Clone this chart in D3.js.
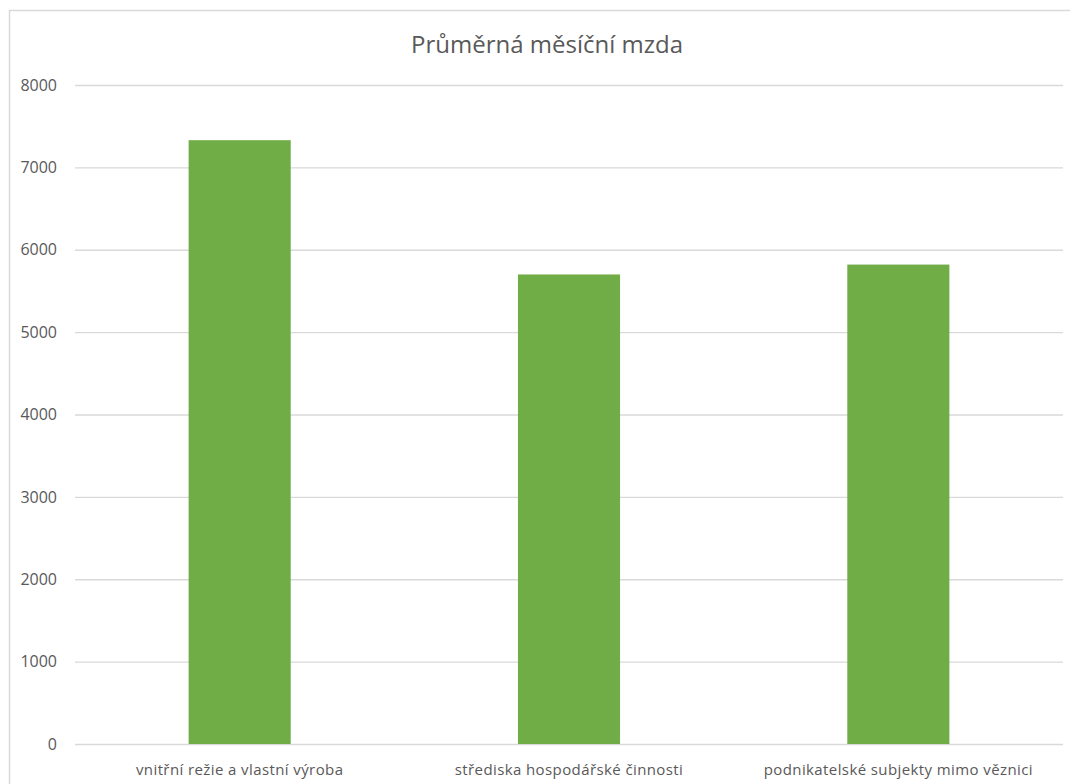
<!DOCTYPE html>
<html>
<head>
<meta charset="utf-8">
<script src="https://cdn.jsdelivr.net/npm/d3@7"></script>
<style>
  html, body { margin: 0; padding: 0; background: #fff; }
  svg { display: block; }
</style>
</head>
<body>
<svg id="chart" width="1070" height="784"></svg>
<script>
// Average monthly wage by type of employment
const categories = [
  "vnitřní režie a vlastní výroba",
  "střediska hospodářské činnosti",
  "podnikatelské subjekty mimo věznici"
];
const wages = [7330, 5700, 5820];
const yTicks = [0, 1000, 2000, 3000, 4000, 5000, 6000, 7000, 8000];
const title = "Průměrná měsíční mzda";

const W = 1070, H = 784;
const plot = { left: 75, right: 1063, top: 85, bottom: 744 };
const textColor = "#595959";
const fontFamily = "'Open Sans', 'DejaVu Sans', sans-serif";

const svg = d3.select("#chart");

// chart frame
svg.append("rect")
  .attr("x", 9.5).attr("y", 10.5)
  .attr("width", W).attr("height", H)
  .attr("fill", "#fff")
  .attr("stroke", "#d9d9d9")
  .attr("stroke-width", 1.5);

const x = d3.scaleBand()
  .domain(categories)
  .range([plot.left, plot.right])
  .paddingInner(0.69)
  .paddingOuter(0.345);

const y = d3.scaleLinear()
  .domain([0, 8000])
  .range([plot.bottom, plot.top]);

// gridlines + value axis labels
const yAxis = d3.axisLeft(y)
  .tickValues(yTicks)
  .tickSize(-(plot.right - plot.left))
  .tickPadding(18)
  .tickFormat(d3.format("d"));

const gy = svg.append("g")
  .attr("transform", `translate(${plot.left},0)`)
  .call(yAxis);
gy.select(".domain").remove();
gy.selectAll(".tick line")
  .attr("stroke", "#d9d9d9")
  .attr("stroke-width", 1.3);
gy.selectAll(".tick text")
  .attr("fill", textColor)
  .style("font-family", fontFamily)
  .style("font-size", "16px");

// bars
svg.append("g")
  .selectAll("rect")
  .data(wages)
  .join("rect")
  .attr("x", (d, i) => x(categories[i]))
  .attr("width", x.bandwidth())
  .attr("y", d => y(d))
  .attr("height", d => y(0) - y(d))
  .attr("fill", "#70ad47");

// category axis
const xAxis = d3.axisBottom(x).tickSize(0).tickPadding(20);
const gx = svg.append("g")
  .attr("transform", `translate(0,${plot.bottom})`)
  .call(xAxis);
gx.select(".domain").remove();
gx.selectAll(".tick text")
  .attr("fill", textColor)
  .style("font-family", fontFamily)
  .style("font-size", "15px")
  .style("letter-spacing", "0.4px");

// title
svg.append("text")
  .attr("x", 547)
  .attr("y", 53)
  .attr("text-anchor", "middle")
  .attr("fill", textColor)
  .style("font-family", fontFamily)
  .style("font-size", "24px")
  .text(title);
</script>
</body>
</html>
